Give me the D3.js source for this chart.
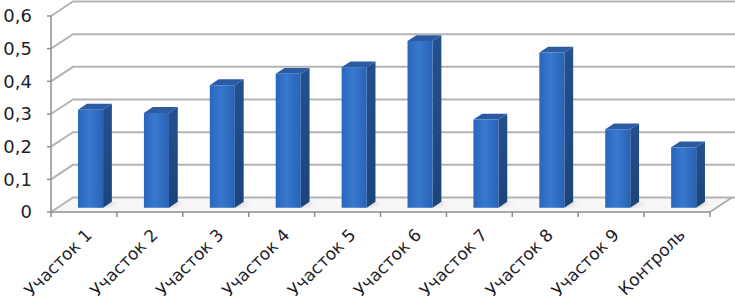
<!DOCTYPE html>
<html>
<head>
<meta charset="utf-8">
<script src="https://cdn.jsdelivr.net/npm/d3@7"></script>
<style>
  body { margin:0; background:#fff; }
  svg { display:block; }
  text { font-family:"DejaVu Sans", sans-serif; fill:#1e1e2a; }
</style>
</head>
<body>
<svg id="chart" width="735" height="302"></svg>
<script>
// data
var categories=['Участок 1','Участок 2','Участок 3','Участок 4','Участок 5','Участок 6','Участок 7','Участок 8','Участок 9','Контроль']
var values=[0.30,0.29,0.375,0.41,0.43,0.51,0.27,0.475,0.24,0.185]
var yTicks=[0,0.1,0.2,0.3,0.4,0.5,0.6]
var yTickLabels=['0','0,1','0,2','0,3','0,4','0,5','0,6']

var svg=d3.select('#chart')
var W=735
var depth={dx:22,dy:-14.5}
var x=d3.scaleBand().domain(categories).range([51,710])
var y=d3.scaleLinear().domain([0,0.6]).range([212,16])
// shift a point back into the 3d depth (0 front .. 1 back)
function off(p,d){ return [p[0]+depth.dx*d,p[1]+depth.dy*d] }

var defs=svg.append('defs')
var gf=defs.append('linearGradient').attr('id','front').attr('x1',0).attr('y1',0).attr('x2',1).attr('y2',0)
gf.append('stop').attr('offset','0%').attr('stop-color','#2b66ba')
gf.append('stop').attr('offset','45%').attr('stop-color','#3779cf')
gf.append('stop').attr('offset','100%').attr('stop-color','#2962b4')
var gs=defs.append('linearGradient').attr('id','side').attr('x1',0).attr('y1',0).attr('x2',0).attr('y2',1)
gs.append('stop').attr('offset','0%').attr('stop-color','#23508f')
gs.append('stop').attr('offset','100%').attr('stop-color','#1b4479')
defs.append('filter').attr('id','blur').append('feGaussianBlur').attr('stdDeviation',2.5)

var g={
    floor:svg.append('g'),
    grid:svg.append('g'),
    shadow:svg.append('g'),
    axis:svg.append('g'),
    bars:svg.append('g'),
    labels:svg.append('g')
}

// floor
g.floor.append('path')
    .attr('d',d3.line()([[51,y(0)],[710,y(0)],off([710,y(0)],1),off([51,y(0)],1)]))
    .attr('fill','#f7f7f7')

// grid lines (side wall diagonal + back wall)
g.grid.selectAll('path')
    .data(yTicks)
    .join('path')
    .attr('d',d=>{
        var a=[51,y(d)], b=off(a,1)
        return d3.line()([a,b,[W,b[1]]])
    })
    .attr('fill','none')
    .attr('stroke','#b4b4b4')
    .attr('stroke-width',2)

// right floor edge
g.axis.append('path')
    .attr('d',d3.line()([[710,y(0)],off([710,y(0)],1)]))
    .attr('stroke','#a8a8a8').attr('stroke-width',1.5).attr('fill','none')

// y axis
g.axis.append('line')
    .attr('x1',51).attr('x2',51).attr('y1',y(0.6)).attr('y2',y(0))
    .attr('stroke','#8e8e8e').attr('stroke-width',1.5)
g.axis.selectAll('.yt')
    .data(yTicks)
    .join('line')
    .attr('class','yt')
    .attr('x1',47).attr('x2',51).attr('y1',d=>y(d)).attr('y2',d=>y(d))
    .attr('stroke','#8e8e8e').attr('stroke-width',1.5)
g.labels.selectAll('.yl')
    .data(yTicks)
    .join('text')
    .attr('class','yl')
    .attr('x',32).attr('y',d=>y(d)).attr('dy','0.36em')
    .attr('text-anchor','end')
    .attr('font-size',18)
    .text((d,i)=>yTickLabels[i])

// x axis
g.axis.append('line')
    .attr('x1',51).attr('x2',710).attr('y1',y(0)).attr('y2',y(0))
    .attr('stroke','#8e8e8e').attr('stroke-width',1.5)
var edges=categories.map(c=>x(c)).concat([710])
g.axis.selectAll('.xt')
    .data(edges)
    .join('line')
    .attr('class','xt')
    .attr('x1',d=>d).attr('x2',d=>d).attr('y1',y(0)).attr('y2',y(0)+5)
    .attr('stroke','#8e8e8e').attr('stroke-width',1.5)

// bars
var d0=0.3, d1=0.7, bw=x.bandwidth()*0.38
var bars=categories.map((c,i)=>{
    var cx=x(c)+x.bandwidth()/2
    var l=cx-bw/2, r=cx+bw/2
    return {
        base:[off([l,y(0)],d0),off([r,y(0)],d0)],
        top:[off([l,y(values[i])],d0),off([r,y(values[i])],d0)],
    }
})
var line=d3.line()
g.shadow.selectAll('path')
    .data(bars)
    .join('path')
    .attr('d',b=>{
        var bl=b.base[0], br=b.base[1]
        return line([[bl[0]+2,bl[1]-1],[br[0]+2,br[1]-1],off([br[0]+6,br[1]],d1-d0),off([bl[0]+6,bl[1]],d1-d0)])
    })
    .attr('fill','#9a9a9a').attr('opacity',0.55).attr('filter','url(#blur)')

var bg=g.bars.selectAll('g')
    .data(bars)
    .join('g')
bg.append('path')
    .attr('d',b=>line([b.top[1],b.base[1],off(b.base[1],d1-d0),off(b.top[1],d1-d0)])+'Z')
    .attr('fill','url(#side)')
bg.append('path')
    .attr('d',b=>line([b.top[0],b.top[1],off(b.top[1],d1-d0),off(b.top[0],d1-d0)])+'Z')
    .attr('fill','#2b5ca3')
bg.append('path')
    .attr('d',b=>line([b.top[0],b.top[1],b.base[1],b.base[0]])+'Z')
    .attr('fill','url(#front)')

// category labels
g.labels.selectAll('.xl')
    .data(categories)
    .join('text')
    .attr('class','xl')
    .attr('transform',d=>`translate(${x(d)+x.bandwidth()/2+9},${y(0)+24}) rotate(-45)`)
    .attr('text-anchor','end')
    .attr('font-size',17)
    .text(d=>d)
</script>
</body>
</html>
